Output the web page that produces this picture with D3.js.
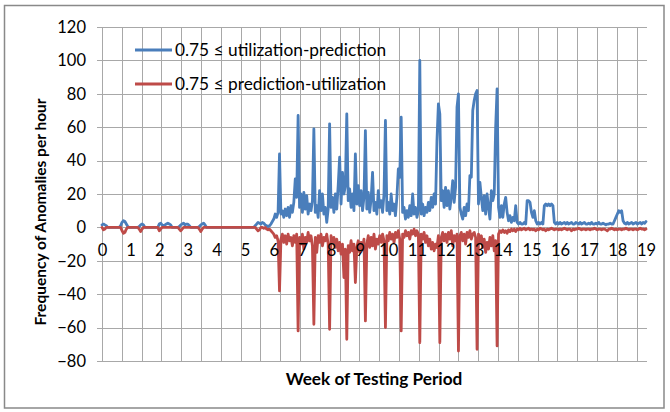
<!DOCTYPE html>
<html>
<head>
<meta charset="utf-8">
<script src="https://cdn.jsdelivr.net/npm/d3@7"></script>
<style>
  body { margin: 0; background: #fff; }
  svg { display: block; }
  text { font-family: Lato, "Liberation Sans", sans-serif; fill: #000; }
</style>
</head>
<body>
<svg id="chart" width="670" height="412"></svg>
<script>
// Hourly anomaly counts, sampled every 0.05 week from week 0 to week 19.
const weekStart = 0;
const weekStep = 0.05;

// 0.75 <= utilization - prediction (one row per week, 20 samples each)
const utilizationOverPrediction = [
  1.5, 2, 1.5, 1, 0, 0, 0, 0, 0, 0, 0, 0, 0, 1, 3, 4, 3.5, 2, 0.5, 0,            // week 0
  0, 0, 0, 0, 0, 0, 0.5, 1.5, 2, 1.5, 0, 0, 0, 0, 0, 0, 0, 0, 0, 0,               // week 1
  2, 2.5, 1.5, 1, 1.5, 2, 2.5, 2, 1.5, 0, 0, 0, 0, 0, 0.5, 1.5, 2, 2.5, 1.5, 2,   // week 2
  2, 1, 0, 0, 0, 0, 0, 0, 0.5, 1.5, 2, 2.5, 1.5, 0, 0, 0, 0, 0, 0, 0,             // week 3
  0, 0, 0, 0, 0, 0, 0, 0, 0, 0, 0, 0, 0, 0, 0, 0, 0, 0, 0, 0,                     // week 4
  0, 0, 0, 0, 0, 0, 0, 1, 2, 3, 2.5, 2, 3, 2.5, 1.5, 1, 0.5, 1, 2, 3.5,           // week 5
  5, 8, 6, 9, 44, 8, 10, 6, 11, 7, 12, 6, 13, 9, 15, 29, 18, 67, 12, 20,          // week 6
  9, 21, 11, 19, 8, 14, 10, 16, 59, 9, 13, 6, 22, 10, 20, 8, 12, 3, 11, 62,       // week 7
  12, 18, 9, 20, 11, 25, 42, 14, 33, 20, 25, 68, 16, 23, 12, 20, 10, 44, 14, 25,  // week 8
  13, 22, 10, 18, 58, 11, 21, 9, 17, 33, 10, 15, 8, 22, 12, 16, 9, 20, 64, 10,    // week 9
  15, 8, 20, 10, 14, 7, 18, 35, 30, 66, 9, 12, 5, 10, 6, 13, 7, 20, 8, 12,        // week 10
  6, 10, 100, 8, 14, 7, 12, 9, 15, 10, 18, 12, 20, 14, 52, 74, 68, 16, 22, 12,    // week 11
  24, 13, 22, 11, 18, 28, 15, 24, 72, 80, 12, 8, 5, 12, 7, 14, 10, 31, 30, 70,    // week 12
  76, 80, 82, 14, 27, 18, 10, 19, 8, 20, 12, 5, 22, 16, 20, 60, 83, 12, 6, 13,    // week 13
  6, 14, 18, 9, 4, 7, 3, 6, 4, 13, 3, 2, 3, 2, 2, 3, 2, 16, 16, 15,               // week 14
  9, 6, 10, 4, 2, 3, 2, 3, 2, 13, 14, 13, 14, 13, 14, 13, 3, 2, 3, 2,             // week 15
  3, 2, 2.5, 3, 2, 3, 2, 2.5, 3, 2, 2, 3, 2.5, 2, 3, 2, 2.5, 3, 2, 2,             // week 16
  2.5, 2, 3, 2, 2, 2.5, 2, 3, 2, 2, 2.5, 2, 1.5, 2, 2, 2.5, 2, 2, 4, 6,           // week 17
  8, 10, 9, 10, 4, 2.5, 2, 3, 2, 2.5, 3, 2, 2.5, 3, 2, 2.5, 3, 2, 3, 2.5,         // week 18
  3.5                                                                             // week 19
];

// 0.75 <= prediction - utilization, plotted as negative counts
const predictionOverUtilization = [
  0, -1.5, -1, 0, 0, 0, 0, 0, 0, 0, 0, 0, 0, 0, -2, -3.5, -3, -1, 0, 0,                       // week 0
  0, 0, 0, 0, 0, 0, -1, -2.5, -1, 0, 0, 0, 0, 0, 0, 0, 0, 0, 0, 0,                            // week 1
  -2, -1, 0, 0, 0, 0, 0, 0, 0, 0, 0, 0, 0, 0, -1, -2, -1, 0, 0, 0,                            // week 2
  0, 0, 0, 0, 0, 0, 0, 0, -1, -2.5, -1, 0, 0, 0, 0, 0, 0, 0, 0, 0,                            // week 3
  0, 0, 0, 0, 0, 0, 0, 0, 0, 0, 0, 0, 0, 0, 0, 0, 0, 0, 0, 0,                                 // week 4
  0, 0, 0, 0, 0, 0, 0, 0, -1, -2, -1.5, 0, 0, -0.5, 0, -1, -1.5, -1, -2, -3,                  // week 5
  -4, -6, -5, -8, -38, -7, -4, -9, -5, -10, -4, -8, -6, -11, -5, -9, -4, -62, -6, -10,        // week 6
  -4, -13, -6, -9, -3, -8, -5, -11, -58, -6, -15, -5, -9, -4, -11, -6, -8, -4, -10, -61,      // week 7
  -5, -9, -6, -12, -7, -14, -9, -16, -10, -30, -13, -67, -11, -15, -8, -14, -10, -33, -12, -8, // week 8
  -15, -9, -13, -7, -56, -10, -5, -12, -6, -11, -4, -13, -7, -10, -5, -9, -4, -8, -60, -5,    // week 9
  -8, -3, -7, -4, -9, -3, -6, -2, -7, -62, -4, -6, -2, -5, -3, -7, -2, -4, -1, -5,            // week 10
  -2, -4, -69, -4, -7, -3, -9, -5, -11, -7, -13, -9, -14, -10, -12, -5, -69, -6, -3, -8,      // week 11
  -4, -9, -3, -7, -2, -11, -5, -8, -4, -74, -5, -3, -8, -4, -10, -3, -6, -2, -7, -4,          // week 12
  -3, -6, -73, -4, -9, -5, -12, -7, -15, -9, -13, -6, -11, -5, -14, -8, -71, -4, -2, -3,      // week 13
  -1.5, -3, -2, -3.5, -1.5, -2.5, -1, -2, -1, -2.5, -1, -1.5, -0.5, -1.5, -1, -0.5, -1.5, -1, -0.5, -1.5, // week 14
  -1, -1.5, -1, -2, -1, -1.5, -0.5, -1, -1.5, -1, -2, -1, -1.5, -1, -0.5, -1, -1.5, -1, -1, -1.5,        // week 15
  -1, -1.5, -1, -0.5, -1, -1.5, -1, -1, -2, -1, -1.5, -1, -1, -0.5, -1, -1.5, -1, -1, -1.5, -1,          // week 16
  -1, -1.5, -1, -1, -0.5, -1, -1.5, -1, -1, -1.5, -1, -1, -1.5, -2, -1, -1, -0.5, -1, -1.5, -1,          // week 17
  -1.5, -1, -1, -1.5, -1, -1, -0.5, -1, -1.5, -1, -1, -1.5, -1, -1, -1.5, -1, -0.5, -1, -1, -1.5,        // week 18
  -1                                                                                                      // week 19
];

const weekLabels = [0, 1, 2, 3, 4, 5, 6, 7, 8, 9, 10, 11, 12, 13, 14, 15, 16, 17, 18, 19];
const yTickValues = [-80, -60, -40, -20, 0, 20, 40, 60, 80, 100, 120];
const seriesNames = ["0.75 \u2264 utilization-prediction", "0.75 \u2264 prediction-utilization"];
const seriesColors = ["#4a7ebb", "#be4b48"];

// Layout
const plot = { left: 102, right: 646.5, top: 27, bottom: 361 };
const gridStepWeeks = 0.6916;   // vertical gridline spacing of the category axis
const tickFont = 16.5;

const svg = d3.select("#chart");
svg.append("rect").attr("width", 670).attr("height", 412).attr("fill", "#fff");

// Outer chart frame
svg.append("rect")
  .attr("x", 4.5).attr("y", 5.5).attr("width", 659.5).attr("height", 402.5)
  .attr("fill", "none").attr("stroke", "#898989").attr("stroke-width", 1.5);

const x = d3.scaleLinear().domain([0, 19]).range([plot.left, plot.left + 19 * 28.63]);
const y = d3.scaleLinear().domain([-80, 120]).range([plot.bottom, plot.top]);

// Vertical gridlines
const gridWeeks = d3.range(0, 19.0001, gridStepWeeks);
svg.append("g").selectAll("line").data(gridWeeks).join("line")
  .attr("x1", d => Math.round(x(d)) + 0.5).attr("x2", d => Math.round(x(d)) + 0.5)
  .attr("y1", y(120)).attr("y2", y(-80))
  .attr("stroke", "#a8a8a8").attr("stroke-width", 1);

// Horizontal gridlines and y tick labels
const yAxis = svg.append("g")
  .attr("transform", `translate(${plot.right},0)`)
  .call(d3.axisLeft(y).tickValues(yTickValues).tickSize(plot.right - plot.left + 5).tickPadding(11).tickFormat(d3.format("d")));
yAxis.select(".domain").remove();
yAxis.selectAll(".tick line").attr("stroke", "#a8a8a8").attr("shape-rendering", "crispEdges");
yAxis.selectAll(".tick text").attr("font-size", tickFont).attr("font-family", "Lato, 'Liberation Sans', sans-serif").attr("fill", "#000");

// Series lines
const line = d3.line()
  .x((d, i) => x(weekStart + i * weekStep))
  .y(d => y(d));

[utilizationOverPrediction, predictionOverUtilization].forEach((values, k) => {
  svg.append("path")
    .datum(values)
    .attr("d", line)
    .attr("fill", "none")
    .attr("stroke", seriesColors[k])
    .attr("stroke-width", 2.8)
    .attr("stroke-linejoin", "round")
    .attr("stroke-linecap", "round");
});

// Week labels sit just below the zero line
const xAxis = svg.append("g")
  .attr("transform", `translate(0,${y(0)})`)
  .call(d3.axisBottom(x).tickValues(weekLabels).tickSize(0).tickPadding(17).tickFormat(d3.format("d")));
xAxis.select(".domain").remove();
xAxis.selectAll(".tick text").attr("font-size", tickFont).attr("font-family", "Lato, 'Liberation Sans', sans-serif").attr("fill", "#000");

// Legend
const legend = svg.append("g");
seriesNames.forEach((name, k) => {
  const ly = 50 + k * 34;
  legend.append("line")
    .attr("x1", 135).attr("x2", 172).attr("y1", ly).attr("y2", ly)
    .attr("stroke", seriesColors[k]).attr("stroke-width", 2.8);
  legend.append("text")
    .attr("x", 175).attr("y", ly).attr("dy", "0.35em")
    .attr("font-size", 17.3)
    .text(name);
});

// Axis titles
svg.append("text")
  .attr("transform", `translate(41,${(plot.top + plot.bottom) / 2 + 18}) rotate(-90)`)
  .attr("text-anchor", "middle").attr("dy", "0.35em")
  .attr("font-size", 15.5).attr("font-weight", "bold")
  .text("Frequency of Anomalies per hour");

svg.append("text")
  .attr("x", 374).attr("y", 379).attr("dy", "0.35em")
  .attr("text-anchor", "middle")
  .attr("font-size", 17.2).attr("font-weight", "bold")
  .text("Week of Testing Period");
</script>
</body>
</html>
